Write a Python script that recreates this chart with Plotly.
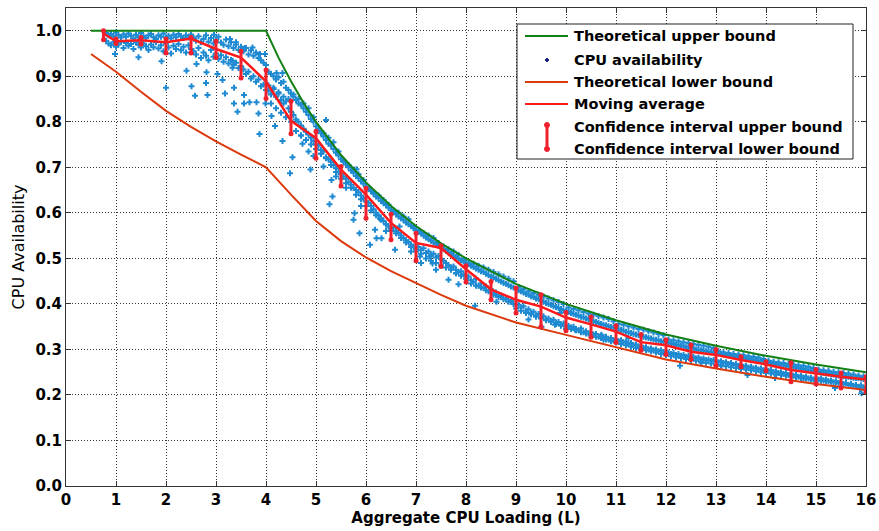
import plotly.graph_objects as go

# ---------------- data ----------------
ub_L = [0.5, 4.0, 4.25, 4.5, 4.75, 5.0, 5.5, 6.0, 6.5, 7.0, 7.5, 8.0, 9.0, 10.0, 11.0, 12.0, 13.0, 14.0, 15.0, 16.0]
ub_v = [1.0, 1.0, 0.941, 0.889, 0.842, 0.8, 0.727, 0.667, 0.615, 0.571, 0.533, 0.5, 0.444, 0.4, 0.364, 0.333, 0.308, 0.286, 0.267, 0.25]

lb_L = [0.5, 1.0, 1.5, 2.0, 2.5, 3.0, 3.5, 4.0, 4.5, 5.0, 5.5, 6.0, 6.5, 7.0, 7.5, 8.0, 9.0, 10.0, 11.0, 12.0, 13.0, 14.0, 15.0, 16.0]
lb_v = [0.949, 0.910, 0.866, 0.824, 0.789, 0.757, 0.728, 0.700, 0.640, 0.582, 0.538, 0.502, 0.472, 0.446, 0.420, 0.396, 0.359, 0.332, 0.305, 0.278, 0.258, 0.240, 0.224, 0.211]

ma_L = [0.75, 1.0, 1.5, 2.0, 2.5, 3.0, 3.5, 4.0, 4.5, 5.0, 5.5, 6.0, 6.5, 7.0, 7.5, 8.0, 8.5, 9.0, 9.5, 10.0,
        10.5, 11.0, 11.5, 12.0, 12.5, 13.0, 13.5, 14.0, 14.5, 15.0, 15.5, 16.0]
ma_v = [0.994, 0.977, 0.979, 0.975, 0.983, 0.96, 0.941, 0.889, 0.802, 0.764, 0.695, 0.64, 0.578, 0.534, 0.523, 0.476,
        0.432, 0.409, 0.394, 0.37, 0.355, 0.339, 0.316, 0.309, 0.295, 0.288, 0.277, 0.267, 0.255, 0.247, 0.24, 0.234]
ci_hi = [1.0, 0.982, 0.985, 0.982, 0.985, 0.977, 0.955, 0.914, 0.845, 0.779, 0.702, 0.654, 0.597, 0.555, 0.528, 0.484,
         0.449, 0.435, 0.42, 0.381, 0.371, 0.352, 0.333, 0.321, 0.31, 0.30, 0.284, 0.273, 0.271, 0.256, 0.248, 0.24]
ci_lo = [0.98, 0.972, 0.971, 0.951, 0.951, 0.941, 0.896, 0.851, 0.774, 0.72, 0.659, 0.588, 0.541, 0.495, 0.482, 0.448,
         0.409, 0.38, 0.35, 0.341, 0.327, 0.315, 0.298, 0.289, 0.278, 0.264, 0.262, 0.253, 0.229, 0.224, 0.215, 0.207]

# measured CPU availability (band samples)
avail_L = [
    0.80, 0.85, 0.90, 0.95, 1.00, 1.05, 1.10, 1.15, 1.20, 1.25, 1.30, 1.35, 1.40, 1.45, 1.50, 1.55, 1.60, 1.65, 1.70, 1.75,
    1.80, 1.85, 1.90, 1.95, 2.00, 2.05, 2.10, 2.15, 2.20, 2.25, 2.30, 2.35, 2.40, 2.45, 2.50,
    2.55, 2.60, 2.65, 2.70, 2.75, 2.80, 2.85, 2.90, 2.95, 3.00, 3.05, 3.10, 3.15, 3.20, 3.25, 3.30, 3.35, 3.40, 3.45, 3.50,
    3.55, 3.60, 3.65, 3.70, 3.75, 3.80, 3.85, 3.90, 3.95, 4.00,
    4.05, 4.10, 4.15, 4.20, 4.25, 4.30, 4.35, 4.40, 4.45, 4.50,
    4.55, 4.60, 4.65, 4.70, 4.75, 4.80, 4.85, 4.90, 4.95, 5.00,
    5.05, 5.10, 5.15, 5.20, 5.25, 5.30, 5.35, 5.40, 5.45, 5.50,
    5.55, 5.60, 5.65, 5.70, 5.75, 5.80, 5.85, 5.90, 5.95, 6.00,
    6.05, 6.10, 6.15, 6.20, 6.25, 6.30, 6.35, 6.40, 6.45, 6.50,
    6.55, 6.60, 6.65, 6.70, 6.75, 6.80, 6.85, 6.90, 6.95, 7.00,
    7.05, 7.10, 7.15, 7.20, 7.25, 7.30, 7.35, 7.40, 7.45, 7.50,
    7.55, 7.60, 7.65, 7.70, 7.75, 7.80, 7.85, 7.90, 7.95, 8.00,
    8.05, 8.10, 8.15, 8.20, 8.25, 8.30, 8.35, 8.40, 8.45, 8.50, 8.55, 8.60, 8.65, 8.70, 8.75, 8.80, 8.85, 8.90, 8.95, 9.00,
    9.05, 9.10, 9.15, 9.20, 9.25, 9.30, 9.35, 9.40, 9.45, 9.50, 9.55, 9.60, 9.65, 9.70, 9.75, 9.80, 9.85, 9.90, 9.95, 10.00,
    10.05, 10.10, 10.15, 10.20, 10.25, 10.30, 10.35, 10.40, 10.45, 10.50, 10.55, 10.60, 10.65, 10.70, 10.75, 10.80, 10.85, 10.90, 10.95, 11.00,
    11.05, 11.10, 11.15, 11.20, 11.25, 11.30, 11.35, 11.40, 11.45, 11.50, 11.55, 11.60, 11.65, 11.70, 11.75, 11.80, 11.85, 11.90, 11.95, 12.00,
    12.05, 12.10, 12.15, 12.20, 12.25, 12.30, 12.35, 12.40, 12.45, 12.50, 12.55, 12.60, 12.65, 12.70, 12.75, 12.80, 12.85, 12.90, 12.95, 13.00,
    13.05, 13.10, 13.15, 13.20, 13.25, 13.30, 13.35, 13.40, 13.45, 13.50, 13.55, 13.60, 13.65, 13.70, 13.75, 13.80, 13.85, 13.90, 13.95, 14.00,
    14.05, 14.10, 14.15, 14.20, 14.25, 14.30, 14.35, 14.40, 14.45, 14.50, 14.55, 14.60, 14.65, 14.70, 14.75, 14.80, 14.85, 14.90, 14.95, 15.00,
    15.05, 15.10, 15.15, 15.20, 15.25, 15.30, 15.35, 15.40, 15.45, 15.50, 15.55, 15.60, 15.65, 15.70, 15.75, 15.80, 15.85, 15.90, 15.95, 16.00,
]
avail_hi = [
    0.995, 0.99, 0.993, 0.988, 0.996, 0.99, 0.985, 0.992, 0.987, 0.994, 0.989, 0.983, 0.991, 0.986, 0.995, 0.988, 0.984, 0.99, 0.993, 0.986,
    0.982, 0.99, 0.987, 0.994, 0.985, 0.989, 0.983, 0.991, 0.986, 0.993, 0.988, 0.984, 0.99, 0.985, 0.992,
    0.985, 0.978, 0.988, 0.975, 0.982, 0.99, 0.976, 0.984, 0.972, 0.98, 0.987, 0.974, 0.969, 0.981, 0.966, 0.975, 0.962, 0.97, 0.958, 0.965,
    0.955, 0.962, 0.948, 0.957, 0.945, 0.952, 0.94, 0.935, 0.93, 0.925,
    0.91, 0.905, 0.9, 0.893, 0.898, 0.885, 0.888, 0.875, 0.87, 0.862,
    0.855, 0.848, 0.84, 0.838, 0.83, 0.822, 0.815, 0.806, 0.8, 0.79,
    0.78, 0.775, 0.768, 0.76, 0.752, 0.748, 0.74, 0.732, 0.726, 0.718,
    0.712, 0.706, 0.7, 0.693, 0.688, 0.681, 0.676, 0.67, 0.664, 0.658,
    0.652, 0.648, 0.642, 0.636, 0.632, 0.626, 0.621, 0.617, 0.611, 0.606,
    0.602, 0.597, 0.592, 0.588, 0.584, 0.579, 0.575, 0.571, 0.566, 0.562,
    0.558, 0.555, 0.55, 0.546, 0.542, 0.539, 0.535, 0.532, 0.528, 0.524,
    0.52, 0.516, 0.513, 0.51, 0.506, 0.503, 0.499, 0.496, 0.493, 0.49,
    0.487, 0.484, 0.481, 0.478, 0.475, 0.472, 0.47, 0.466, 0.463, 0.46, 0.458, 0.455, 0.452, 0.449, 0.446, 0.444, 0.441, 0.438, 0.436, 0.433,
    0.43, 0.428, 0.425, 0.422, 0.42, 0.417, 0.415, 0.412, 0.41, 0.407, 0.405, 0.402, 0.4, 0.398, 0.395, 0.393, 0.391, 0.389, 0.386, 0.384,
    0.382, 0.38, 0.378, 0.376, 0.374, 0.372, 0.37, 0.368, 0.366, 0.364, 0.362, 0.36, 0.358, 0.356, 0.354, 0.353, 0.351, 0.349, 0.348, 0.346,
    0.344, 0.343, 0.341, 0.339, 0.338, 0.336, 0.334, 0.333, 0.331, 0.33, 0.328, 0.327, 0.325, 0.324, 0.322, 0.321, 0.32, 0.318, 0.317, 0.316,
    0.314, 0.313, 0.312, 0.31, 0.309, 0.308, 0.307, 0.305, 0.304, 0.303, 0.302, 0.3, 0.299, 0.298, 0.297, 0.296, 0.295, 0.294, 0.293, 0.292,
    0.291, 0.29, 0.289, 0.288, 0.287, 0.286, 0.285, 0.284, 0.283, 0.282, 0.281, 0.28, 0.279, 0.278, 0.277, 0.276, 0.275, 0.274, 0.273, 0.272,
    0.271, 0.27, 0.269, 0.268, 0.267, 0.266, 0.265, 0.264, 0.263, 0.262, 0.261, 0.26, 0.259, 0.258, 0.257, 0.256, 0.255, 0.254, 0.253, 0.252,
    0.251, 0.25, 0.249, 0.248, 0.247, 0.246, 0.245, 0.244, 0.243, 0.242, 0.241, 0.24, 0.24, 0.239, 0.238, 0.237, 0.237, 0.236, 0.235, 0.234,
]
avail_lo = [
    0.978, 0.972, 0.968, 0.975, 0.965, 0.97, 0.976, 0.962, 0.973, 0.967, 0.971, 0.96, 0.974, 0.969, 0.963, 0.972, 0.966, 0.958, 0.97, 0.964,
    0.975, 0.961, 0.968, 0.955, 0.972, 0.963, 0.95, 0.967, 0.96, 0.971, 0.957, 0.965, 0.952, 0.968, 0.96,
    0.955, 0.948, 0.962, 0.94, 0.952, 0.945, 0.935, 0.958, 0.943, 0.95, 0.938, 0.946, 0.932, 0.942, 0.928, 0.936, 0.925, 0.93, 0.918, 0.922,
    0.915, 0.905, 0.91, 0.895, 0.9, 0.888, 0.893, 0.878, 0.882, 0.87,
    0.868, 0.86, 0.872, 0.855, 0.862, 0.848, 0.84, 0.845, 0.83, 0.822,
    0.815, 0.805, 0.8, 0.792, 0.785, 0.778, 0.772, 0.765, 0.758, 0.75,
    0.748, 0.738, 0.735, 0.722, 0.718, 0.712, 0.705, 0.698, 0.69, 0.685,
    0.68, 0.675, 0.668, 0.662, 0.655, 0.65, 0.645, 0.638, 0.632, 0.625,
    0.622, 0.615, 0.608, 0.6, 0.595, 0.588, 0.582, 0.575, 0.57, 0.565,
    0.568, 0.56, 0.556, 0.55, 0.545, 0.54, 0.536, 0.53, 0.526, 0.52,
    0.525, 0.518, 0.522, 0.512, 0.515, 0.508, 0.51, 0.502, 0.505, 0.498,
    0.495, 0.49, 0.485, 0.48, 0.482, 0.475, 0.47, 0.472, 0.465, 0.46,
    0.46, 0.452, 0.448, 0.455, 0.44, 0.445, 0.435, 0.438, 0.428, 0.432, 0.42, 0.425, 0.415, 0.418, 0.41, 0.412, 0.405, 0.408, 0.4, 0.398,
    0.398, 0.392, 0.395, 0.385, 0.388, 0.38, 0.383, 0.375, 0.378, 0.37, 0.373, 0.366, 0.368, 0.362, 0.365, 0.358, 0.36, 0.355, 0.357, 0.35,
    0.352, 0.348, 0.35, 0.345, 0.342, 0.346, 0.338, 0.34, 0.335, 0.337, 0.332, 0.334, 0.328, 0.33, 0.326, 0.328, 0.322, 0.325, 0.32, 0.322,
    0.318, 0.32, 0.315, 0.317, 0.312, 0.314, 0.309, 0.311, 0.306, 0.308, 0.303, 0.305, 0.3, 0.302, 0.298, 0.3, 0.296, 0.298, 0.294, 0.296,
    0.293, 0.29, 0.292, 0.288, 0.29, 0.286, 0.288, 0.284, 0.286, 0.282, 0.284, 0.28, 0.282, 0.278, 0.28, 0.276, 0.278, 0.275, 0.277, 0.274,
    0.272, 0.274, 0.27, 0.272, 0.268, 0.27, 0.266, 0.268, 0.264, 0.266, 0.262, 0.264, 0.26, 0.262, 0.258, 0.26, 0.256, 0.258, 0.254, 0.256,
    0.253, 0.255, 0.25, 0.252, 0.248, 0.25, 0.246, 0.248, 0.244, 0.246, 0.242, 0.244, 0.24, 0.242, 0.238, 0.24, 0.236, 0.238, 0.234, 0.236,
    0.234, 0.236, 0.232, 0.234, 0.23, 0.232, 0.228, 0.23, 0.226, 0.228, 0.224, 0.226, 0.222, 0.224, 0.22, 0.222, 0.218, 0.22, 0.216, 0.214,
]
# third band of samples for L = 4.05 ... 16.00 (band edges)
avail_edge = [
    0.88, 0.84, 0.875, 0.83, 0.865, 0.82, 0.855, 0.81, 0.85, 0.80,
    0.86, 0.78, 0.85, 0.77, 0.84, 0.76, 0.83, 0.75, 0.81, 0.74,
    0.785, 0.73, 0.775, 0.72, 0.765, 0.705, 0.755, 0.69, 0.735, 0.675,
    0.715, 0.665, 0.705, 0.655, 0.695, 0.64, 0.685, 0.63, 0.672, 0.615,
    0.655, 0.605, 0.645, 0.595, 0.638, 0.585, 0.628, 0.575, 0.618, 0.56,
    0.605, 0.555, 0.6, 0.545, 0.592, 0.535, 0.586, 0.525, 0.57, 0.515,
    0.562, 0.51, 0.556, 0.5, 0.55, 0.495, 0.545, 0.49, 0.534, 0.485,
    0.526, 0.48, 0.52, 0.475, 0.515, 0.468, 0.508, 0.462, 0.498, 0.455,
    0.49, 0.445, 0.488, 0.44, 0.484, 0.436, 0.48, 0.43, 0.475, 0.425, 0.47, 0.42, 0.465, 0.415, 0.46, 0.41, 0.455, 0.405, 0.45, 0.39,
    0.437, 0.385, 0.433, 0.38, 0.428, 0.377, 0.424, 0.372, 0.42, 0.368, 0.416, 0.364, 0.412, 0.36, 0.408, 0.356, 0.404, 0.352, 0.4, 0.345,
    0.392, 0.345, 0.389, 0.342, 0.386, 0.338, 0.382, 0.335, 0.379, 0.332, 0.376, 0.328, 0.373, 0.325, 0.37, 0.322, 0.367, 0.318, 0.362, 0.315,
    0.356, 0.312, 0.354, 0.309, 0.351, 0.306, 0.348, 0.303, 0.345, 0.3, 0.343, 0.298, 0.34, 0.296, 0.337, 0.293, 0.334, 0.29, 0.331, 0.287,
    0.322, 0.285, 0.32, 0.283, 0.318, 0.281, 0.316, 0.279, 0.314, 0.277, 0.312, 0.275, 0.31, 0.273, 0.308, 0.271, 0.306, 0.269, 0.303, 0.266,
    0.296, 0.265, 0.294, 0.263, 0.292, 0.261, 0.29, 0.259, 0.289, 0.257, 0.287, 0.256, 0.285, 0.254, 0.284, 0.252, 0.282, 0.25, 0.279, 0.248,
    0.275, 0.247, 0.273, 0.245, 0.272, 0.244, 0.27, 0.242, 0.268, 0.24, 0.267, 0.239, 0.265, 0.237, 0.264, 0.236, 0.262, 0.234, 0.259, 0.232,
    0.256, 0.231, 0.254, 0.23, 0.253, 0.229, 0.251, 0.228, 0.25, 0.226, 0.248, 0.225, 0.247, 0.223, 0.245, 0.222, 0.243, 0.221, 0.241, 0.218,
]
# scattered individual samples
extra_L = [0.98, 1.45, 1.91, 2.0, 2.41, 2.61, 2.51, 2.58, 2.81, 2.8, 2.83, 2.96, 3.03, 3.13, 3.18, 3.28, 3.4, 3.58, 3.73, 3.33,
           3.33, 3.36, 3.36, 3.43, 3.56, 3.56, 3.67, 3.81, 3.85, 3.87, 3.88, 3.98, 3.99, 4.21, 4.33, 4.11, 4.18, 4.33, 4.53, 4.48,
           4.73, 4.89, 5.2, 4.85, 5.15, 5.31, 5.33, 5.81, 5.27, 5.75, 5.87, 5.77, 6.08, 6.18, 6.21, 6.31, 6.28, 6.58, 6.67, 7.08,
           7.28, 7.33, 7.65, 7.85, 7.8, 8.18, 8.61, 9.25, 9.51, 9.78, 10.18, 9.88, 10.71, 10.75, 11.25, 12.28, 12.71, 13.11, 13.63, 14.18,
           14.75, 15.38, 15.88, 15.91, 4.6, 4.7, 4.95, 5.1, 5.4, 5.6, 5.9, 6.4, 6.9, 7.1, 7.4]
extra_v = [0.949, 0.942, 0.933, 0.875, 0.912, 0.927, 0.878, 0.857, 0.909, 0.885, 0.859, 0.991, 0.905, 0.892, 0.862, 0.982, 0.975, 0.962, 0.963, 0.934,
           0.919, 0.875, 0.84, 0.822, 0.859, 0.84, 0.843, 0.843, 0.818, 0.773, 0.949, 0.949, 0.84, 0.907, 0.907, 0.813, 0.791, 0.758, 0.722, 0.687,
           0.752, 0.695, 0.804, 0.735, 0.702, 0.672, 0.636, 0.696, 0.619, 0.585, 0.555, 0.599, 0.53, 0.563, 0.544, 0.544, 0.587, 0.519, 0.57, 0.504,
           0.504, 0.489, 0.453, 0.443, 0.467, 0.396, 0.405, 0.366, 0.35, 0.354, 0.343, 0.38, 0.332, 0.321, 0.325, 0.264, 0.271, 0.264, 0.244, 0.237,
           0.237, 0.215, 0.213, 0.204, 0.78, 0.77, 0.725, 0.73, 0.68, 0.655, 0.615, 0.56, 0.515, 0.49, 0.475]

x_ticks = list(range(0, 17))
y_ticks = [0.0, 0.1, 0.2, 0.3, 0.4, 0.5, 0.6, 0.7, 0.8, 0.9, 1.0]

legend_labels = ["Theoretical upper bound", "CPU availability", "Theoretical lower bound",
                 "Moving average", "Confidence interval upper bound", "Confidence interval lower bound"]

# ---------------- styles ----------------
C_UP = "#128012"
C_LOW = "#DC3A0C"
C_MA = "#FF1A1A"
C_CI = "#F0202C"
C_PTS = "#1E8AD2"
FONT = "DejaVu Sans"

W, H = 879, 531
ML, MR, MT, MB = 66, 13, 8, 45

fig = go.Figure()

n = min(len(avail_L), len(avail_hi), len(avail_lo))
edge_L = avail_L[-len(avail_edge):]
pts_x = avail_L[:n] + avail_L[:n] + edge_L + extra_L
pts_y = avail_hi[:n] + avail_lo[:n] + avail_edge[:len(edge_L)] + extra_v
fig.add_trace(go.Scatter(x=pts_x, y=pts_y, mode="markers",
                         marker=dict(symbol="cross", size=5, color=C_PTS, line=dict(width=0)),
                         showlegend=False, hoverinfo="skip"))

fig.add_trace(go.Scatter(x=lb_L, y=lb_v, mode="lines", line=dict(color=C_LOW, width=2), showlegend=False))
fig.add_trace(go.Scatter(x=ub_L, y=ub_v, mode="lines", line=dict(color=C_UP, width=2), showlegend=False))
fig.add_trace(go.Scatter(x=ma_L, y=ma_v, mode="lines", line=dict(color=C_MA, width=2.5), showlegend=False))

bx, by = [], []
for L, lo, hi in zip(ma_L, ci_lo, ci_hi):
    bx += [L, L, None]
    by += [lo, hi, None]
fig.add_trace(go.Scatter(x=bx, y=by, mode="lines", line=dict(color=C_CI, width=3), showlegend=False))
fig.add_trace(go.Scatter(x=ma_L + ma_L, y=ci_lo + ci_hi, mode="markers",
                         marker=dict(symbol="circle", size=5, color=C_CI), showlegend=False))

# ---------------- manual legend ----------------
def PX(px):
    return (px - ML) / (W - ML - MR)

def PY(py):
    return (H - MB - py) / (H - MT - MB)

shapes = []
annotations = []
shapes.append(dict(type="rect", xref="paper", yref="paper", x0=PX(517), x1=PX(853), y0=PY(24), y1=PY(159),
                   line=dict(color="#222", width=1), fillcolor="white", layer="above"))
rows = [36, 60, 82, 104, 127, 149]
for py, col in [(rows[0], C_UP), (rows[2], C_LOW), (rows[3], C_MA)]:
    shapes.append(dict(type="line", xref="paper", yref="paper", x0=PX(525), x1=PX(568), y0=PY(py), y1=PY(py),
                       line=dict(color=col, width=2), layer="above"))
# CPU availability marker
shapes.append(dict(type="line", xref="paper", yref="paper", x0=PX(545), x1=PX(549), y0=PY(rows[1]), y1=PY(rows[1]),
                   line=dict(color="#1a237e", width=2), layer="above"))
shapes.append(dict(type="line", xref="paper", yref="paper", x0=PX(547), x1=PX(547), y0=PY(rows[1] - 2), y1=PY(rows[1] + 2),
                   line=dict(color="#1a237e", width=2), layer="above"))
# confidence interval bar
shapes.append(dict(type="line", xref="paper", yref="paper", x0=PX(547), x1=PX(547), y0=PY(125), y1=PY(149),
                   line=dict(color=C_CI, width=3), layer="above"))
for py in (125, 149):
    shapes.append(dict(type="circle", xref="paper", yref="paper", x0=PX(544.5), x1=PX(549.5), y0=PY(py - 2.5), y1=PY(py + 2.5),
                       line=dict(color=C_CI, width=1), fillcolor=C_CI, layer="above"))
for py, txt in zip(rows, legend_labels):
    annotations.append(dict(xref="paper", yref="paper", x=PX(572), y=PY(py), text=txt, showarrow=False,
                            xanchor="left", yanchor="middle",
                            font=dict(family=FONT, size=14.5, color="black", weight="bold")))

axis_common = dict(showline=True, linecolor="#333", linewidth=1, mirror="ticks", ticks="inside", ticklen=5,
                   tickcolor="#333", showgrid=True, gridcolor="#333", gridwidth=1, griddash="1px,2px",
                   zeroline=False, automargin=False,
                   tickfont=dict(family=FONT, size=15, color="black", weight="bold"))

fig.update_layout(
    width=W, height=H,
    margin=dict(l=ML, r=MR, t=MT, b=MB),
    paper_bgcolor="white", plot_bgcolor="white",
    showlegend=False,
    shapes=shapes, annotations=annotations,
    xaxis=dict(range=[0, 16], tickvals=x_ticks, ticktext=[str(v) for v in x_ticks],
               title=dict(text="Aggregate CPU Loading (L)", standoff=2,
                          font=dict(family=FONT, size=15, color="black", weight="bold")),
               **axis_common),
    yaxis=dict(range=[0, 1.05], tickvals=y_ticks, ticktext=[f"{v:.1f}" for v in y_ticks],
               title=dict(text="CPU Availability", standoff=6,
                          font=dict(family=FONT, size=16, color="black")),
               **axis_common),
)

fig.write_html("out.html")
